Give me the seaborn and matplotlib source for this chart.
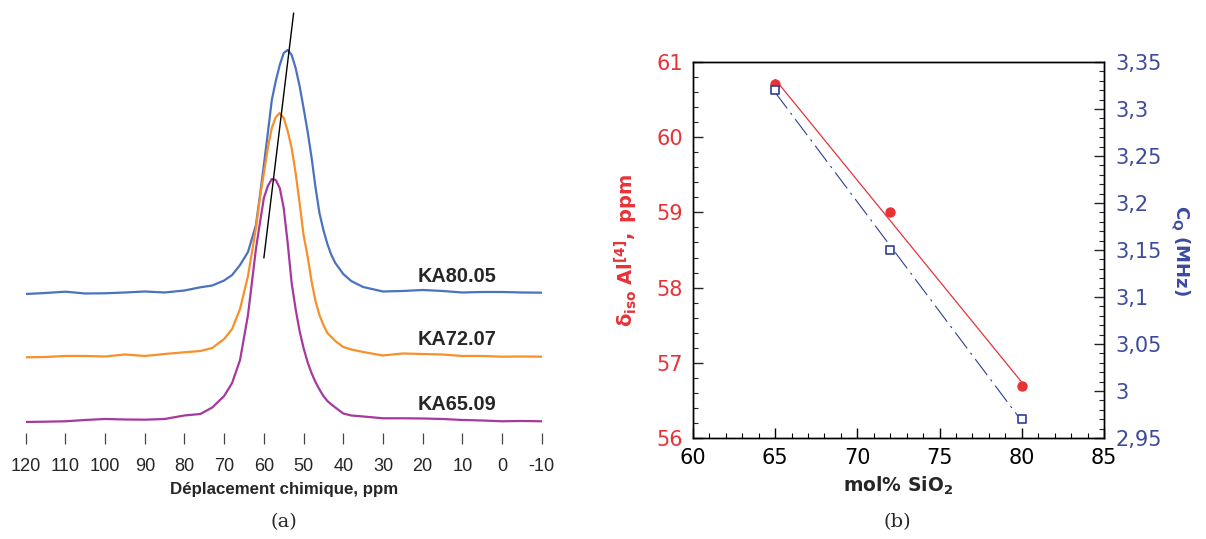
import numpy as np
import pandas as pd
import seaborn as sns
import matplotlib.pyplot as plt
from matplotlib import font_manager as fm
from matplotlib.ticker import MultipleLocator, FuncFormatter

# (a) spectres RMN 27Al, intensite (u.a.)
ppm = [120, 115, 110, 105, 100, 95, 90, 85, 80, 76, 73, 70, 68, 66, 64, 62, 61, 60,
       59, 58, 57, 56, 55, 54, 53, 52, 51, 50, 49, 48, 47, 46, 45, 44, 43, 42, 40,
       38, 35, 30, 25, 20, 15, 10, 5, 0, -5, -10]
ka80 = [11, 12, 13.3, 11.5, 11.7, 12.5, 13.5, 12.5, 14.5, 17.7, 19.5, 24.5, 30, 40, 53,
        80, 109, 140, 172, 205, 224, 240, 252, 255, 250, 237, 219, 197, 174, 148, 118,
        92, 75, 61, 50, 42, 31, 24, 18, 13.5, 14, 15, 14, 12.5, 13, 13, 12.5, 12.3]
ka72 = [10.7, 11, 12, 12, 11.5, 13.5, 12, 14, 15.7, 17, 20, 29, 39, 59, 92, 140, 170,
        195, 220, 240, 251, 255, 250, 237, 220, 195, 165, 133, 112, 87, 67, 53, 43, 35,
        31, 27, 21, 18.5, 16, 12.5, 14.5, 14, 13.5, 12, 12, 11.3, 11.5, 11.3]
ka65 = [11, 11.3, 11.7, 13, 14, 13.5, 13.3, 14, 17.5, 19, 25.5, 37, 50, 73, 118, 184,
        210, 235, 247, 254, 253, 245, 225, 190, 150, 124, 102, 85, 71, 60, 51, 43.5, 37,
        32, 28.5, 25.5, 19.5, 17.5, 16.5, 14.7, 14.7, 14.5, 14, 13, 12.5, 11.7, 12, 11.7]
samples = ["KA80.05", "KA72.07", "KA65.09"]
offsets = [128, 65, 0]
guide_ppm = [52.5, 60.0]
guide_val = [420, 175]

# (b) parametres RMN en fonction de la teneur en silice
sio2 = [65, 72, 80]
delta_iso = [60.71, 59.0, 56.69]
cq = [3.32, 3.15, 2.97]

red = "#e63338"
blue = "#2f3d96"
blue_txt = "#3c4a9e"
colors = ["#4a72c0", "#f7902a", "#a5399e"]

sns.set_style("white")
plt.rcParams["font.family"] = ["DejaVu Sans"]
plt.rcParams["axes.unicode_minus"] = False

# police etroite pour le panneau (a), si dispo
installed = {f.name for f in fm.fontManager.ttflist}
if "Liberation Sans Narrow" in installed:
    narrow, k = ["Liberation Sans Narrow"], 1.0
else:
    narrow, k = ["Liberation Sans", "DejaVu Sans"], 0.87

fig = plt.figure(figsize=(12.06, 5.39), dpi=100)

# ---- (a)
ax1 = fig.add_axes([0.0213, 0.1967, 0.4279, 0.794])
rows = []
for name, vals, off in zip(samples, [ka80, ka72, ka65], offsets):
    for p, v in zip(ppm, vals):
        rows.append({"ppm": p, "signal": v + off, "sample": name})
df = pd.DataFrame(rows)
sns.lineplot(data=df, x="ppm", y="signal", hue="sample", palette=colors,
             legend=False, lw=1.6, ax=ax1)
ax1.plot(guide_ppm, guide_val, color="black", lw=1)
for name, off in zip(samples, offsets):
    ax1.text(11.3, off + 23, name, ha="center", va="baseline", fontsize=16.5 * k,
             fontweight="bold", family=narrow)
ax1.set_xlim(120, -10)
ax1.set_ylim(0, 428)
ax1.set_xticks(list(range(120, -11, -10)))
ax1.set_yticks([])
ax1.tick_params(axis="x", direction="out", length=8, width=0.9, color="#444444",
                labelsize=15 * k, pad=10, bottom=True)
for lab in ax1.get_xticklabels():
    lab.set_family(narrow)
for s in ax1.spines.values():
    s.set_visible(False)
ax1.set_xlabel("Déplacement chimique, ppm", fontsize=14 * k, fontweight="bold",
               family=narrow, labelpad=5)
ax1.set_ylabel("")
fig.text(283.7 / 1206, 1 - 522 / 539, "(a)", ha="center", va="center",
         fontsize=14, family="DejaVu Serif")

# ---- (b)
ax2 = fig.add_axes([0.5746, 0.1874, 0.3408, 0.6976])
ax3 = ax2.twinx()
sns.regplot(x=sio2, y=delta_iso, ax=ax2, ci=None, color=red, marker="o",
            scatter_kws={"s": 42, "alpha": 1, "zorder": 3},
            line_kws={"lw": 0.9})
sns.regplot(x=sio2, y=cq, ax=ax3, ci=None, color=blue, marker="s",
            scatter_kws={"s": 30, "alpha": 1, "facecolor": "white",
                         "edgecolor": blue, "linewidths": 1.2, "zorder": 3},
            line_kws={"lw": 0.8, "linestyle": (0, (18, 5, 2, 5))})

ax2.set_xlim(60, 85)
ax2.set_ylim(56, 61)
ax3.set_ylim(2.95, 3.35)
ax2.xaxis.set_major_locator(MultipleLocator(5))
ax2.xaxis.set_minor_locator(MultipleLocator(1))
ax2.yaxis.set_major_locator(MultipleLocator(1))
ax2.yaxis.set_minor_locator(MultipleLocator(0.2))
ax3.yaxis.set_major_locator(MultipleLocator(0.05))
ax3.yaxis.set_minor_locator(MultipleLocator(0.01))
ax3.yaxis.set_major_formatter(FuncFormatter(lambda v, p: f"{round(v, 2):g}".replace(".", ",")))

ax2.tick_params(axis="x", which="both", direction="in", bottom=True, top=False,
                labelsize=15, pad=7, colors="black")
ax2.tick_params(axis="x", which="major", length=7, width=1)
ax2.tick_params(axis="x", which="minor", length=3.5, width=0.8)
ax2.tick_params(axis="y", which="both", direction="in", left=True, right=False,
                labelsize=15, pad=7, labelcolor=red)
ax2.tick_params(axis="y", which="major", length=7, width=1)
ax2.tick_params(axis="y", which="minor", length=3.5, width=0.8)
ax3.tick_params(axis="y", which="both", direction="in", right=True, left=False,
                labelsize=15, pad=8, labelcolor=blue_txt)
ax3.tick_params(axis="y", which="major", length=7, width=1)
ax3.tick_params(axis="y", which="minor", length=3.5, width=0.8)
for ax in (ax2, ax3):
    for s in ax.spines.values():
        s.set_visible(True)
        s.set_color("black")
        s.set_linewidth(1)

ax2.set_xlabel("mol% SiO$_\\mathbf{2}$", fontsize=13.5, fontweight="bold", labelpad=5)
ax2.set_ylabel(r"$\mathbf{δ_{iso}\ Al^{[4]},\ ppm}$", fontsize=14, color=red, labelpad=12)
ax3.set_ylabel(r"$\mathbf{C_Q\ (MHz)}$", fontsize=13, color=blue_txt, rotation=270,
               labelpad=22)
fig.text(897 / 1206, 1 - 522 / 539, "(b)", ha="center", va="center",
         fontsize=14, family="DejaVu Serif")

fig.savefig("out.png", dpi=100)
